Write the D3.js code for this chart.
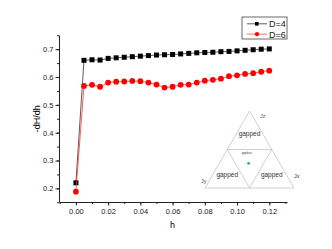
<!DOCTYPE html>
<html>
<head>
<meta charset="utf-8">
<script src="https://cdn.jsdelivr.net/npm/d3@7"></script>
<style>
  body { margin: 0; background: #fff; }
  svg { font-family: "Liberation Sans", Arial, sans-serif; }
</style>
</head>
<body>
<div id="chart"></div>
<script>
// frame constants
const FRAME_WIDTH = 332;
const FRAME_HEIGHT = 249;
const MARGINS = {left: 59, right: 45, top: 35, bottom: 47};

// data
const hValues = [0, 0.005, 0.01, 0.015, 0.02, 0.025, 0.03, 0.035, 0.04, 0.045, 0.05,
  0.055, 0.06, 0.065, 0.07, 0.075, 0.08, 0.085, 0.09, 0.095, 0.1, 0.105, 0.11, 0.115, 0.12];
const d4Values = [0.220, 0.660, 0.662, 0.661, 0.667, 0.669, 0.671, 0.673, 0.675, 0.677, 0.679,
  0.680, 0.681, 0.683, 0.685, 0.687, 0.688, 0.689, 0.691, 0.692, 0.694, 0.696, 0.698, 0.700, 0.701];
const d6Values = [0.188, 0.568, 0.572, 0.565, 0.580, 0.583, 0.584, 0.586, 0.585, 0.580, 0.573,
  0.562, 0.565, 0.572, 0.573, 0.580, 0.587, 0.590, 0.594, 0.603, 0.606, 0.611, 0.614, 0.619, 0.623];
const seriesNames = ["D=4", "D=6"];
const xTicks = [0, 0.02, 0.04, 0.06, 0.08, 0.1, 0.12];
const yTicks = [0.2, 0.3, 0.4, 0.5, 0.6, 0.7];

// inset phase diagram (unit coords)
const triCorners = [[0.5, 1], [0, 0], [1, 0]];
const triInner = [[0.25, 0.5], [0.75, 0.5], [0.5, 0]];
const cornerLabels = ["Jz", "Jy", "Jx"];
const regionLabels = [["gapped", 0.5, 0.68], ["gapped", 0.25, 0.14], ["gapped", 0.75, 0.14]];
const gaplessPoint = [0.49, 0.32];

const VIS_WIDTH = FRAME_WIDTH - MARGINS.left - MARGINS.right;
const VIS_HEIGHT = FRAME_HEIGHT - MARGINS.top - MARGINS.bottom;

const svg = d3.select("#chart").append("svg")
  .attr("width", FRAME_WIDTH)
  .attr("height", FRAME_HEIGHT);

const x = d3.scaleLinear().domain([-0.0105, 0.131]).range([MARGINS.left, MARGINS.left + VIS_WIDTH]);
const y = d3.scaleLinear().domain([0.151, 0.751]).range([MARGINS.top + VIS_HEIGHT, MARGINS.top]);

// x axis with minor ticks
const xMinor = d3.range(-0.01, 0.1301, 0.01);
svg.append("g")
  .attr("transform", "translate(0," + (MARGINS.top + VIS_HEIGHT) + ")")
  .call(d3.axisBottom(x).tickValues(xMinor).tickSize(2).tickFormat(""))
  .call(g => g.select(".domain").remove());
svg.append("g")
  .attr("class", "xaxis")
  .attr("transform", "translate(0," + (MARGINS.top + VIS_HEIGHT) + ")")
  .call(d3.axisBottom(x).tickValues(xTicks).tickSize(3.5).tickPadding(3).tickSizeOuter(0)
    .tickFormat(d3.format(".2f")));

// y axis with minor ticks
const yMinor = d3.range(0.15, 0.7501, 0.05);
svg.append("g")
  .attr("transform", "translate(" + MARGINS.left + ",0)")
  .call(d3.axisLeft(y).tickValues(yMinor).tickSize(2).tickFormat(""))
  .call(g => g.select(".domain").remove());
svg.append("g")
  .attr("class", "yaxis")
  .attr("transform", "translate(" + MARGINS.left + ",0)")
  .call(d3.axisLeft(y).tickValues(yTicks).tickSize(3.5).tickPadding(2).tickSizeOuter(0)
    .tickFormat(d3.format(".1f")));

svg.selectAll(".tick text").attr("font-size", 7.5).attr("fill", "#222");
svg.selectAll(".domain, .tick line").attr("stroke", "#222");

// axis titles
svg.append("text")
  .attr("x", x(0.06)).attr("y", 228)
  .attr("text-anchor", "middle").attr("font-size", 9)
  .text("h");
svg.append("text")
  .attr("transform", "translate(40," + y(0.45) + ") rotate(-90)")
  .attr("text-anchor", "middle").attr("font-size", 9)
  .text("-dH/dh");

// series
const series = [
  {name: seriesNames[0], values: d4Values, color: "#000", line: "#333", shape: "square"},
  {name: seriesNames[1], values: d6Values, color: "#f00", line: "#f33", shape: "circle"}
];

const line = d3.line().x((d, i) => x(hValues[i])).y(d => y(d));

series.forEach(s => {
  svg.append("path")
    .datum(s.values)
    .attr("d", line)
    .attr("fill", "none")
    .attr("stroke", s.line)
    .attr("stroke-width", 0.8);
  if (s.shape === "square") {
    svg.selectAll(".sq").data(s.values).enter().append("rect")
      .attr("x", (d, i) => x(hValues[i]) - 2.5)
      .attr("y", d => y(d) - 2.5)
      .attr("width", 5).attr("height", 5)
      .attr("fill", s.color);
  } else {
    svg.selectAll(".ci").data(s.values).enter().append("circle")
      .attr("cx", (d, i) => x(hValues[i]))
      .attr("cy", d => y(d))
      .attr("r", 2.9)
      .attr("fill", s.color);
  }
});

// legend
const legend = svg.append("g").attr("transform", "translate(242,17)");
legend.append("rect")
  .attr("width", 45).attr("height", 22)
  .attr("fill", "#fff").attr("stroke", "#444").attr("stroke-width", 0.8);
series.forEach((s, i) => {
  const ly = 6.8 + i * 10.4;
  legend.append("line")
    .attr("x1", 5).attr("x2", 25).attr("y1", ly).attr("y2", ly)
    .attr("stroke", i === 0 ? "#333" : "#f9a0a0").attr("stroke-width", i === 0 ? 0.8 : 1.5);
  if (s.shape === "square") {
    legend.append("rect").attr("x", 13).attr("y", ly - 1.8).attr("width", 3.6).attr("height", 3.6).attr("fill", s.color);
  } else {
    legend.append("circle").attr("cx", 15).attr("cy", ly).attr("r", 2.1).attr("fill", s.color);
  }
  legend.append("text")
    .attr("x", 27).attr("y", ly + 3.3)
    .attr("font-size", 9).attr("fill", "#222")
    .text(s.name);
});

// inset triangle
const tx = d3.scaleLinear().domain([0, 1]).range([205, 294]);
const ty = d3.scaleLinear().domain([0, 1]).range([188, 111]);
const inset = svg.append("g");
const poly = pts => pts.map(p => [tx(p[0]), ty(p[1])].join(",")).join(" ");
inset.append("polygon").attr("points", poly(triCorners))
  .attr("fill", "none").attr("stroke", "#bbb").attr("stroke-width", 0.7);
inset.append("polygon").attr("points", poly(triInner))
  .attr("fill", "none").attr("stroke", "#bbb").attr("stroke-width", 0.7);

inset.selectAll(".reg").data(regionLabels).enter().append("text")
  .attr("x", d => tx(d[1])).attr("y", d => ty(d[2]))
  .attr("text-anchor", "middle").attr("font-size", 6.5).attr("fill", "#333")
  .text(d => d[0]);
inset.append("text")
  .attr("x", tx(0.47)).attr("y", ty(0.44))
  .attr("text-anchor", "middle").attr("font-size", 3).attr("fill", "#333")
  .text("gapless");
inset.append("circle")
  .attr("cx", tx(gaplessPoint[0])).attr("cy", ty(gaplessPoint[1]))
  .attr("r", 1.4).attr("fill", "#2db34a");

const cornerPos = [[260, 118, "#7a5230"], [201, 183, "#2a4a8a"], [294, 178, "#333"]];
inset.selectAll(".corner").data(cornerLabels).enter().append("text")
  .attr("x", (d, i) => cornerPos[i][0]).attr("y", (d, i) => cornerPos[i][1])
  .attr("font-size", 5.5).attr("fill", (d, i) => cornerPos[i][2])
  .text(d => d);
</script>
</body>
</html>
